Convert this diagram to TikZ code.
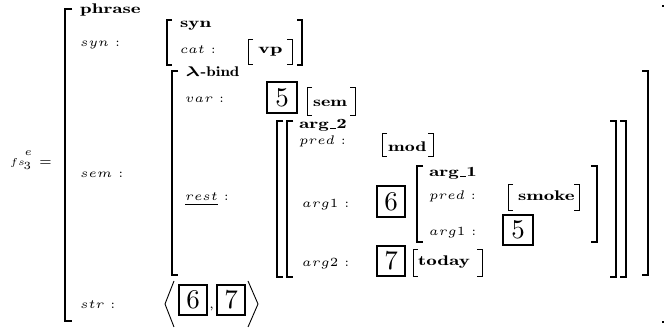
\documentclass[tikz,border=0pt]{standalone}
\usepackage{graphicx}
\newcommand\avmk{2.5}
% small Computer Modern, as set at 5pt design size
\newcommand\cmsmall{\fontencoding{OT1}\fontfamily{cmr}\fontsize{5}{6}\selectfont}
% bold type label (wide), italic attribute label, boxed tag digit
\newcommand\tlab[2][4.2]{\scalebox{#1}[2.8]{\cmsmall\bfseries #2}}
\newcommand\alab[1]{\scalebox{\avmk}{\cmsmall$#1$ :}}
\newcommand\tagdig[1]{\scalebox{2.7}{\fontencoding{OT1}\fontfamily{cmr}\fontsize{10}{12}\selectfont #1}}
% square bracket: x, top, bottom, signed serif, line width
\newcommand\sqbr[5]{\draw[line width=#5] ({#1+#4},#2) -- (#1,#2) -- (#1,#3) -- ({#1+#4},#3);}
% tall bracket with heavier end pieces
\newcommand\tallbr[4]{%
  \draw[line width=1.1] ({#1+#4},#2) -- (#1,#2) -- (#1,#3) -- ({#1+#4},#3);
  \draw[line width=1.9] ({#1+#4},#2) -- (#1,#2) -- (#1,{#2+45});
  \draw[line width=1.9] (#1,{#3-45}) -- (#1,#3) -- ({#1+#4},#3);}
\begin{document}
\begin{tikzpicture}[x=1pt,y=-1pt,
  lab/.style={anchor=base west,inner sep=0pt},
  tagbox/.style={draw,line width=2.6pt,inner sep=0pt}]
\useasboundingbox (0,0) rectangle (664,328);

% left-hand side
\node[lab] (fs) at (10,166) {\scalebox{2.0}{\cmsmall$fs$}};
\node[lab] (fssub) at (23.5,170) {\scalebox{2.2}{\cmsmall$3$}};
\node[lab] (fssup) at (24.5,155.5) {\scalebox{2.2}{\cmsmall$e$}};
\node[lab] (eq) at (39,166) {\scalebox{\avmk}{\cmsmall$=$}};

% outer structure
\tallbr{65}{9}{321}{7}
\fill (662,5) rectangle (664,7);
\fill (662,321) rectangle (664,323);
\node[lab] (phrase) at (80,14) {\tlab{phrase}};
\node[lab] (synA) at (80,47) {\alab{syn}};
\node[lab] (semA) at (80,178) {\alab{sem}};
\node[lab] (strA) at (80,309) {\alab{str}};

% syn value
\sqbr{167}{20}{65}{5}{1.3}
\sqbr{302}{20}{65}{-5}{1.3}
\node[lab] (syn) at (180,28) {\tlab{syn}};
\node[lab] (cat) at (180,54) {\alab{cat}};
\sqbr{248}{40}{65}{5}{1}
\sqbr{292}{40}{65}{-5}{1}
\node[lab] (vp) at (258,54) {\tlab[4.5]{vp}};

% sem value: lambda-bind
\tallbr{172}{71}{275}{6}
\tallbr{648}{71}{275}{-6}
\node[lab] (lbind) at (185,77) {\tlab[3.4]{{\boldmath$\lambda$}-bind}};
\node[lab] (var) at (185,103) {\alab{var}};
\draw[tagbox] (267,82) rectangle (297,113);
\node (t5a) at (282,97.5) {\tagdig{5}};
\sqbr{307}{88}{116}{5}{1}
\sqbr{355}{88}{116}{-5}{1}
\node[lab] (sem) at (313,107) {\tlab[4.0]{sem}};
\node[lab] (rest) at (185,201) {\scalebox{\avmk}{\cmsmall$\underline{rest}$ :}};

% rest value
\tallbr{277}{121}{277}{6}
\tallbr{287}{121}{277}{6}
\tallbr{616}{121}{277}{-6}
\tallbr{626}{121}{277}{-6}
\node[lab] (arg2t) at (299,129) {\tlab{arg\_2}};
\node[lab] (pred2) at (299,145) {\alab{pred}};
\sqbr{382}{134}{157}{5}{1}
\sqbr{433}{134}{157}{-5}{1}
\node[lab] (mod) at (388,152) {\tlab[4.0]{mod}};
\node[lab] (arg1r) at (302,208) {\alab{arg1}};
\draw[tagbox] (377,186) rectangle (405,217);
\node (t6a) at (391,201.5) {\tagdig{6}};
\node[lab] (arg2r) at (302,267) {\alab{arg2}};
\draw[tagbox] (377,246) rectangle (405,276);
\node (t7a) at (391,261) {\tagdig{7}};
\sqbr{413}{250}{277}{5}{1}
\sqbr{482}{250}{277}{-5}{1}
\node[lab] (today) at (418,266) {\tlab{today}};

% arg_1 value
\sqbr{417}{166}{242}{6}{1.6}
\sqbr{597}{166}{242}{-6}{1.6}
\node[lab] (arg1t) at (429,177) {\tlab{arg\_1}};
\node[lab] (pred1) at (429,200) {\alab{pred}};
\sqbr{508}{185}{211}{5}{1}
\sqbr{579}{185}{211}{-5}{1}
\node[lab] (smoke) at (518,201) {\tlab{smoke}};
\node[lab] (arg1i) at (429,236) {\alab{arg1}};
\draw[tagbox] (503,215) rectangle (533,245);
\node (t5b) at (518,230) {\tagdig{5}};

% str value
\draw[line width=0.9] (174,281) -- (165,304) -- (174,327);
\draw[line width=0.9] (248,281) -- (258,304) -- (248,327);
\draw[tagbox] (179,285) rectangle (207,315);
\node (t6b) at (193,300) {\tagdig{6}};
\node[lab] (comma) at (209,309) {\scalebox{\avmk}{\cmsmall,}};
\draw[tagbox] (217,285) rectangle (245,315);
\node (t7b) at (231,300) {\tagdig{7}};
\end{tikzpicture}
\end{document}
